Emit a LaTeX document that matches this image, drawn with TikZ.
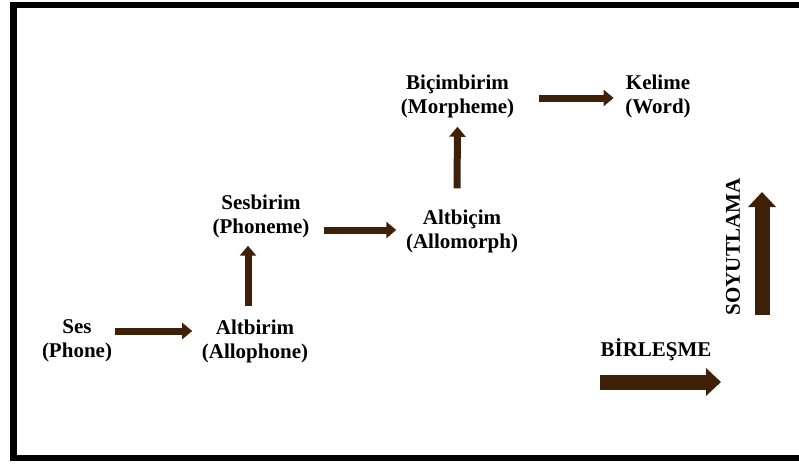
\documentclass[tikz,border=0pt]{standalone}
\usepackage{fontspec}
\setmainfont{Liberation Serif}
\usetikzlibrary{arrows.meta,calc}
\definecolor{brownarrow}{RGB}{62,33,8}
\tikzset{
  term/.style={align=center, inner sep=0pt, font=\fontsize{21}{24}\selectfont\bfseries},
  step arrow/.style={draw=brownarrow, line width=7pt,
    -{Triangle[width=16pt,length=10pt]}, fill=brownarrow},
  big arrow/.style={draw=brownarrow, line width=15pt,
    -{Triangle[width=27pt,length=15pt]}, fill=brownarrow},
  frame/.style={draw=black, line width=6.5pt}
}
\begin{document}
\begin{tikzpicture}[x=1pt,y=-1pt]
  \useasboundingbox (0,0) rectangle (799,463);
  \clip (0,0) rectangle (799,463);
  % outer frame (open to the right)
  \draw[frame] (13.5,5) rectangle (840,458);

  % terms
  \node[term] (ses)    at (77,341)  {Ses\\(Phone)};
  \node[term] (altb)   at (255,341) {Altbirim\\(Allophone)};
  \node[term] (sesb)   at (261,216) {Sesbirim\\(Phoneme)};
  \node[term] (altc)   at (462,231) {Altbiçim\\(Allomorph)};
  \node[term] (bicim)  at (457.5,96) {Biçimbirim\\(Morpheme)};
  \node[term] (kelime) at (658,96)  {Kelime\\(Word)};

  % process labels
  \node[term] (birl)  at (656,350) {BİRLEŞME};
  \node[term, rotate=90] (soyut) at (733,247) {SOYUTLAMA};

  % steps between terms
  \draw[step arrow] ($(ses.east)+(2.5,-10)$) -- ($(altb.west)+(-9.5,-10)$);
  \draw[step arrow] ($(altb.north)+(-7,-13)$) -- ($(sesb.south)+(-13,8)$);
  \draw[step arrow] ($(sesb.east)+(14,14)$) -- ($(altc.west)+(-9.5,-1)$);
  \draw[step arrow] ($(altc.north)+(-5,-21)$) -- ($(bicim.south)+(0,9)$);
  \draw[step arrow] ($(bicim.east)+(24.5,2)$) -- ($(kelime.west)+(-11.5,2)$);

  % direction arrows
  \coordinate (birlA) at (600,382);
  \coordinate (birlB) at (721,382);
  \coordinate (soyA) at (762,315);
  \coordinate (soyB) at (762,192);
  \draw[big arrow] (birlA) -- (birlB);
  \draw[big arrow] (soyA) -- (soyB);
\end{tikzpicture}
\end{document}
